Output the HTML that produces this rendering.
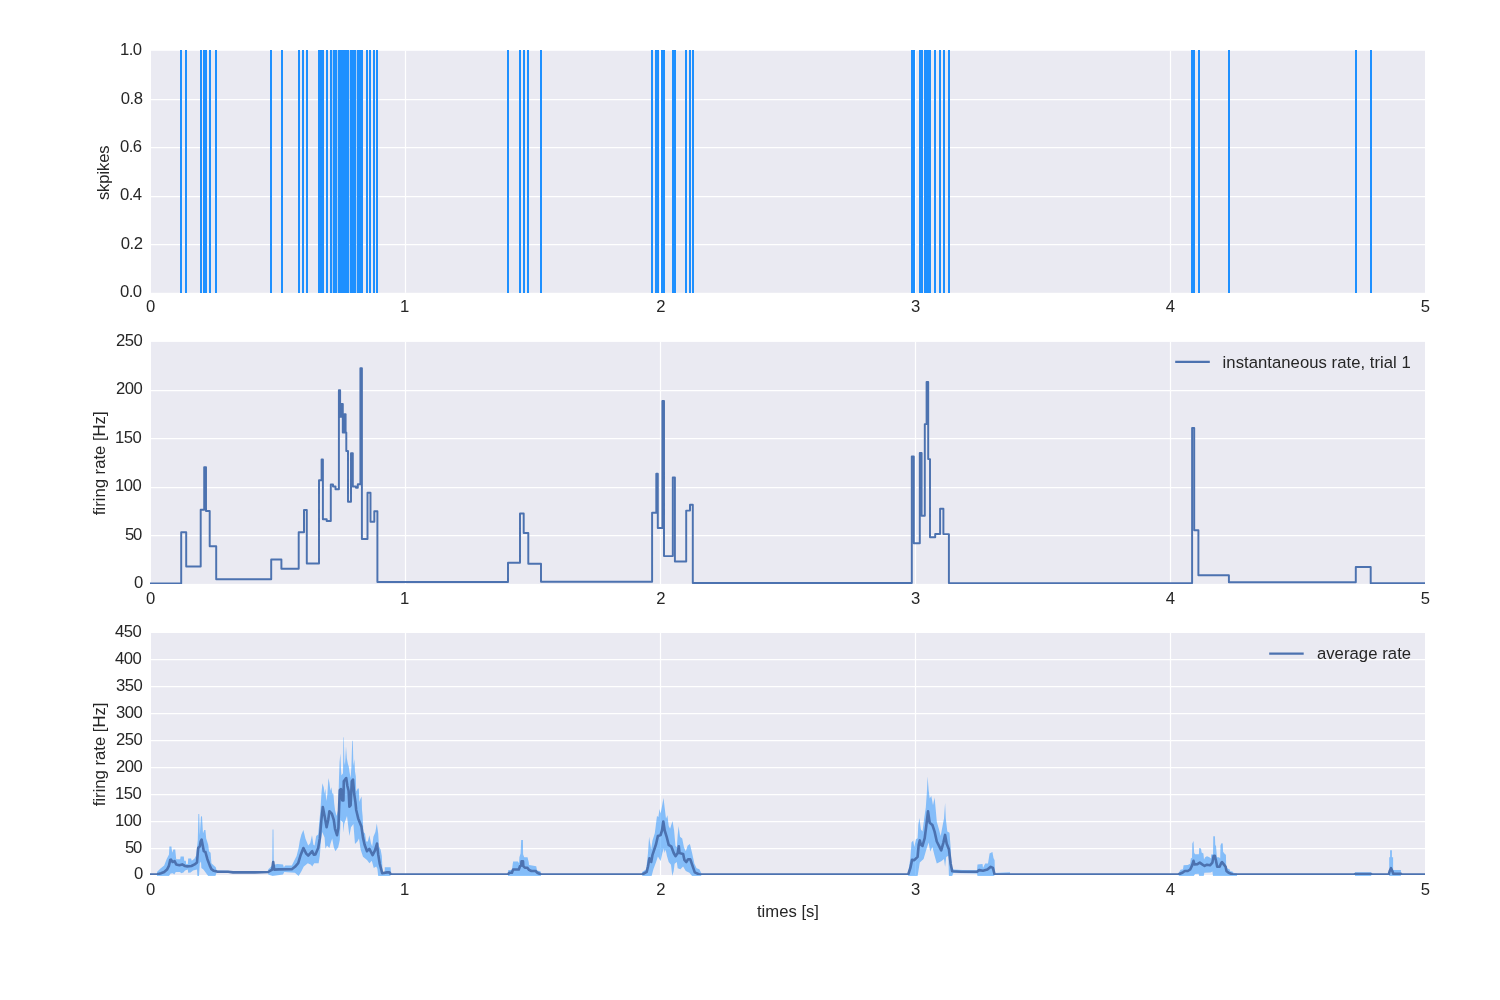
<!DOCTYPE html>
<html><head><meta charset="utf-8"><title>spikes and firing rates</title>
<style>html,body{margin:0;padding:0;background:#fff}body{width:1500px;height:1000px;overflow:hidden}svg{display:block}text{font-family:"Liberation Sans",Arial,sans-serif;font-size:16.67px;fill:#262626}</style>
</head><body>
<svg width="1500" height="1000" viewBox="0 0 1500 1000">
<rect x="0" y="0" width="1500" height="1000" fill="#fff"/>
<defs>
<clipPath id="c0"><rect x="150" y="50.8" width="1275" height="242.1"/></clipPath>
<clipPath id="c1"><rect x="150" y="341.9" width="1275" height="242.1"/></clipPath>
<clipPath id="c2"><rect x="150" y="633" width="1275" height="242.1"/></clipPath>
<clipPath id="cb"><rect x="151" y="633" width="1274" height="243"/></clipPath>
</defs>
<rect x="151" y="50.8" width="1274" height="242" fill="#EAEAF2"/>
<path d="M405.5,50.8 V292.8 M660.5,50.8 V292.8 M915.5,50.8 V292.8 M1170.5,50.8 V292.8 M151,244.5 H1425 M151,196.5 H1425 M151,147.5 H1425 M151,99.5 H1425" stroke="#fff" stroke-width="1.25" fill="none"/>
<path d="M180,49.9h2v243.2h-2zM185,49.9h2v243.2h-2zM200,49.9h2v243.2h-2zM203,49.9h4v243.2h-4zM209,49.9h2v243.2h-2zM215,49.9h2v243.2h-2zM270,49.9h2v243.2h-2zM281,49.9h2v243.2h-2zM298,49.9h2v243.2h-2zM302,49.9h2v243.2h-2zM306,49.9h2v243.2h-2zM318,49.9h6v243.2h-6zM326,49.9h2v243.2h-2zM330,49.9h2.2v243.2h-2.2zM332.9,49.9h4.3v243.2h-4.3zM337.9,49.9h11.3v243.2h-11.3zM349.9,49.9h6.3v243.2h-6.3zM356.9,49.9h6.1v243.2h-6.1zM366,49.9h2v243.2h-2zM369,49.9h2v243.2h-2zM373,49.9h2v243.2h-2zM376,49.9h2v243.2h-2zM507,49.9h2v243.2h-2zM519,49.9h2v243.2h-2zM523,49.9h2v243.2h-2zM527,49.9h2v243.2h-2zM540,49.9h2v243.2h-2zM651,49.9h2v243.2h-2zM655,49.9h4v243.2h-4zM661,49.9h4v243.2h-4zM672,49.9h4v243.2h-4zM685,49.9h2v243.2h-2zM689,49.9h2v243.2h-2zM692,49.9h2v243.2h-2zM911,49.9h4v243.2h-4zM919,49.9h4v243.2h-4zM924,49.9h7v243.2h-7zM934,49.9h2v243.2h-2zM939,49.9h2v243.2h-2zM943,49.9h2v243.2h-2zM948,49.9h2v243.2h-2zM1191,49.9h4v243.2h-4zM1198,49.9h2v243.2h-2zM1228,49.9h2v243.2h-2zM1355,49.9h2v243.2h-2zM1370,49.9h2v243.2h-2z" fill="#1E90FF"/>
<rect x="151" y="341.9" width="1274" height="242" fill="#EAEAF2"/>
<path d="M405.5,341.9 V583.9 M660.5,341.9 V583.9 M915.5,341.9 V583.9 M1170.5,341.9 V583.9 M151,535.5 H1425 M151,487.5 H1425 M151,438.5 H1425 M151,390.5 H1425" stroke="#fff" stroke-width="1.25" fill="none"/>
<path d="M150,583.4H181.2V532.2H186.2V566.4H200.7V509.8H204.2V467.1H206V511H209.7V546.2H216.2V579.2H271.2V559.5H281.4V568.8H298.7V532.2H304V509.9H306.8V563.4H319V480.2H321.6V459.5H322.9V519.2H326.7V521H330.8V484.5H333V486.5H335.5V489.2H338.9V390.1H340.1V416.8H341.5V403.9H342.8V432.4H344.3V414.1H345.6V432.4H346.3V451H348V501.8H351V453.3H352.8V486.5H356V487.7H357.8V484.3H360.4V368.3H361.9V539H367.5V492.8H370.5V521.8H374.3V511.2H377.4V582H508V562.7H520V513.5H523.7V533H528.3V563.7H541V581.8H652.1V512.8H656.3V473.7H657.8V527.9H662.4V400.9H664V556.1H672.8V477.4H674.9V561.4H686.2V510.6H690V504.8H692.8V582.9H911.8V456.5H913.8V543.2H919.8V452.9H921.6V515.8H924.8V424.1H926.6V381.9H928.2V459.1H930V537.2H935.2V533.9H940.1V508.8H943.4V534.1H948.9V583.1H1192.1V428H1194.2V530.2H1198.4V575.3H1228.9V582.2H1355.8V567H1370.7V583.2H1425.5" stroke="#4C72B0" stroke-width="1.95" fill="none" stroke-linejoin="round" clip-path="url(#c1)"/>
<rect x="151" y="633" width="1274" height="242" fill="#EAEAF2"/>
<path d="M405.5,633 V875 M660.5,633 V875 M915.5,633 V875 M1170.5,633 V875 M151,848.5 H1425 M151,821.5 H1425 M151,794.5 H1425 M151,767.5 H1425 M151,740.5 H1425 M151,713.5 H1425 M151,686.5 H1425 M151,659.5 H1425" stroke="#fff" stroke-width="1.25" fill="none"/>
<path d="M157,872L160.2,868.8L164.2,865.6L166.6,859.2L169,854.4L169.4,846.4L171.4,846.4L172.2,852.8L173.4,849.6L175.2,849.6L176.2,859.2L180.2,859.2L180.6,856.4L183.8,856.4L184.2,860.8L185.8,860.8L186.2,864L187.8,864L188.2,858.4L191,858.4L191.8,860.8L194.6,858.4L196.2,855.2L197.8,840L198.4,814L199.2,814L199.8,835.2L201,816L202,816.8L203,833.6L204.2,830L205.4,830L206.2,838.4L208.2,844.8L209,851.2L210.6,852.8L211.4,863.2L213.8,865.6L215.8,867.2L216.6,870.4L228,870.8L233,872L233,873L228,873L216.6,872.4L215.4,876L208.2,876L205.8,872.8L203.4,869.6L201.4,868L201,861.6L199.8,863.2L199,876L197.4,876L197,869.6L193,870.4L190.6,872.4L188.2,872.8L187.8,869.6L185,870.4L183.4,872.4L181,873.2L180.2,872L175.8,872L174.2,874.4L173,873.2L170.6,873.6L169,876L157,876ZM268.2,869.6L272.2,865.6L272.6,829.6L273.4,829.6L273.8,864.8L277.4,864L283,864.4L283.8,867.2L285.4,865.6L291.8,865.6L294.2,860.8L296.6,856L298.6,848L299.8,840.8L301.4,834.4L303.4,830L305.4,838.4L308.2,845.6L310.2,843.2L312,835.2L313.4,844.8L314.6,845.6L316.2,836L318.2,834.4L319,825.6L320.6,808L321.4,794L322.4,783.2L323.8,787.6L324.6,794L325.4,788.4L326,798L326.4,801L327.4,794L328.4,778L329.4,782.8L330.4,790.8L331.4,787.2L332.2,793.2L333.4,794L334.2,803.6L335,810L336.5,816L338.2,810L339,778L339.6,762L340.4,753.6L341,770L341.4,775.6L343,773.2L343.4,738L343.8,736.8L344.4,762L345,765.2L346,746.4L346.8,758L347.8,763.6L348.8,766.8L349.4,771.6L350.6,778L351.4,766.8L352.2,741.2L352.8,740.4L353.4,766L354.4,759.2L355,771.6L355.8,776.4L356.2,791.6L357.8,788.4L358.8,788.4L359.4,802L360.2,799.6L361.6,796.4L362,810L362.6,816L363.4,832L365,833.6L366.2,841.6L367.8,841.6L369.4,835.2L371,843.2L372.2,846.4L373.4,836.8L375.4,832L376.8,823.6L378.2,833.6L379,846.4L380.6,849.6L381.8,856L382.6,872L384.6,872L384.8,867.2L390.6,867.2L391,872.8L391,874.4L390.2,876L378.2,876L377.4,868.8L376.2,866.4L373.8,868L371.8,860.8L369.4,863.2L367,860L363,856.8L360.6,849.6L359,838.4L357.4,841.6L355,844L353.4,824L351,827.2L349.4,836L347,816L344.2,824L343.4,832.8L343,822.4L340.6,820L339.8,840L338.2,847.2L335.4,851.2L333.8,847.2L332.2,838.4L330.6,843.2L329.4,848L327,845.6L325.4,848.8L324.6,837.6L322.2,832L321,840L319.8,856L318.6,863.2L314.2,863.2L312.2,866.4L311,864.8L307.8,863.2L303.8,866.4L301,872L298.6,876L295,872.8L284.2,872L283,874.4L272.6,876L268.2,874.4ZM508,873.4L508.3,870.1L511.9,870.1L513.1,861.4L517.9,861.4L519.1,863.2L519.4,857.2L520.6,853.6L521.2,840.1L522.9,840.1L523.1,854.2L524.2,857.2L527.5,857.2L528.7,862L529,865L532,865.6L536.2,866.2L537.1,870.4L540.4,871.3L541,873.4L541,876L508,876ZM642.2,871.9L646.2,869.2L648,853L649.1,836.8L650.3,844L651.2,849.4L652.5,840.4L654.8,833.2L657,816.1L658.4,817L659.5,808.9L660.6,813.4L662,806.2L663.5,798.1L664.7,808L666,818.8L667.4,815.2L668.7,826L670.1,828.7L672.5,821.1L674.1,830.5L675.5,845.8L676.8,847.6L677.7,835L678.6,826L680,836.8L682.2,838.6L684,847.6L685.8,851.2L687.6,845.8L689.9,844L692.1,853L694.4,863.8L696.6,868.3L699.3,869.2L701.6,873.7L701.1,876L692.1,876L689.4,872.8L685.8,871L683.1,866.5L680.4,869.2L677.7,868.3L676.8,862L674.6,863.8L673.7,871L672.3,876L671,864.7L668.7,862L666.9,855.7L665.6,849.4L664.7,853L663.8,848.5L662.4,853L660.6,861.1L657.9,856.6L656.1,862L653.4,869.2L651.6,876L642.2,876ZM908.2,872.3L910.4,858L911.5,842.6L913.2,840.4L914.3,847L915.9,839.3L917.6,838.2L918.3,825L919.4,817.9L920.9,829.4L922.5,831.6L924.2,818.4L925.8,807.4L926.9,792L927.6,776.6L928.6,789.8L929.7,798.6L931.3,795.9L933,805.2L934.6,797.5L935.7,809.6L936.8,821.7L939,829.4L940.7,836L942.3,827.2L944,818.4L945.1,803L945.8,818.4L947.3,831.6L949.5,832.7L950.6,847L951.7,866.8L953.3,869.6L962.1,870.1L977,870.3L977.5,864.6L982.5,864.1L983,867.9L985.2,863.5L988,863.5L989.6,853.6L992.4,852L993.5,858L994.6,860.2L994.9,872.9L1010,872.3L1010,874.5L994.9,874.5L994,876L977.5,876L977,873.4L953.3,872.9L952.2,876L948.9,876L948.4,855.8L946.2,856.9L945.1,866.8L944,859.1L941.2,861.3L936.8,863.5L934.6,855.8L932.4,847L930.2,851.4L928.6,842.6L926.4,849.2L923.6,859.1L919.8,862.4L917.6,876L908.2,876ZM1178.8,872.8L1180.6,869.8L1183,869.2L1183.6,865.3L1187.8,865L1190.2,863.8L1190.8,858.4L1192,857.8L1192.3,843.4L1193.5,841L1194.1,852.4L1195,854.2L1198.9,854.2L1199.2,847.9L1201,848.5L1201.6,852.4L1203.4,853.6L1204,859.6L1205.2,857.2L1207,856.3L1209.4,857.2L1210.9,858.4L1211.2,854.5L1213,854.2L1213.3,836.2L1214.9,836.2L1215.3,845.2L1216,845.8L1216.9,857.2L1219,857.2L1220.2,858.4L1220.5,845.2L1221.7,843.1L1222.7,843.4L1223.1,851.8L1225,854.2L1225.9,854.8L1226.2,865.6L1227.4,868.6L1229.5,869.2L1230.4,871.3L1232.5,871.6L1233.4,872.8L1237,873.4L1237,876L1213,876L1212.4,871.6L1210.6,872.5L1204.3,872.8L1203.7,876L1199.2,876L1198.6,873.7L1195,874L1193.8,876L1178.8,876ZM1355,872.2L1371.2,872.2L1371.2,876L1355,876ZM1389.2,874L1389.2,857.2L1390.1,857.2L1390.1,850.3L1391.9,850.3L1391.9,857.2L1393.1,857.2L1393.1,870.1L1400.9,870.1L1400.9,874L1400.9,876L1389.2,876Z" fill="#1E90FF" fill-opacity="0.5" clip-path="url(#cb)"/>
<path d="M150,874.5L157,874.5L161,873.2L164.2,872L167,869.6L169,865.6L170.2,860L171,859.6L172.6,862L174.6,861.2L176.2,864.4L179.4,865.2L182.2,864.4L185,866L187.4,866.4L191.4,866L194.6,864.4L197,862.4L198.2,848L199.8,846.4L200.6,841.6L201.6,839.6L202.6,844.8L203.8,851.2L205.4,852L207.4,859.2L209.8,865.6L211.4,869.2L213.8,870.8L217,871.6L228.2,871.8L233,872.4L255,872.4L268.2,872L272.2,869.6L273.2,862L274.2,869.6L279,869.4L291.8,869.2L295,866.8L298.2,863.2L300.6,855.2L303.4,848L306.2,853.6L308.2,855.6L312.2,851.2L313.8,854.8L315.4,854.4L318.2,848L319.8,838.4L321.4,820L322.8,807L324.6,816L326.6,827.2L328.2,820L329.4,811.2L331.8,813.6L333.8,820L335,828.8L337,835.2L338.4,828L339.2,805L339.8,790L341,789.2L342.2,800.4L343.4,800.4L343.8,781.2L346.2,778L347.4,786L348.6,790.8L349.4,806.8L350.6,805.2L351.8,781.2L353,779.6L354.2,794L355.4,802L356.2,810L358.2,818.4L361.4,826.4L363,837.6L364.6,844.8L367,851.2L369.4,848.8L372.6,855.2L375,850.4L377,843.6L378.2,854.4L379.8,864L382.2,873.2L387,872.4L389.4,872.4L391,874.5L508,874.5L509.2,872.8L511.9,872.8L513.1,869.5L518.8,869.5L520,866.2L521.2,865.6L521.5,861.4L523,861.4L523.3,866.2L524.8,867.7L527.2,867.7L529,869.8L531.4,871L535.6,871L537.4,872.8L541,874.5L630,874.5L642.2,874.5L646.7,871.9L648,866.5L649.4,858.4L651.2,862L652.5,854.8L656.1,844L657.9,835.9L660.6,835L662,830.5L663.3,821.5L664.7,830.5L666.9,837.7L668.7,844.9L671.4,846.7L673.7,853L675.5,856.2L677.7,853L678.8,846.3L679.5,853L683.1,853.9L684.5,860.2L686.3,862L688.1,859.3L690.3,859.3L692.1,864.7L694.8,872.4L699.3,874.5L702,874.5L895,874.5L908.2,874.5L910.4,867.9L912.1,859.7L914.3,860.2L917.6,856.9L918.7,844.8L919.8,840.4L920.9,844.8L922.5,845.9L924.7,838.2L926.4,825L928,811.3L929.7,822.8L932.4,825L934.6,831.6L936.8,841.5L939,845.9L941.2,850.3L943.4,842.6L945.1,834.9L946.7,843.7L948.9,849.2L950.6,863.5L952.2,871.2L961,871.8L977,871.8L979.2,870.1L983,870.7L987.4,869.6L990.7,866.8L992.9,867.9L994.6,874.5L1010,874.5L1015,874.5L1165,874.5L1178.2,874.5L1182.4,872.8L1184.8,871L1187.8,871L1190.2,869.5L1192,865.6L1193.5,860.8L1194.4,864.4L1197.4,864.1L1199.8,862.6L1202.2,864.4L1204.6,865.9L1207,864.7L1210,865.3L1212.4,862.6L1213.6,856L1214.8,855.7L1216,860.8L1217.2,866.8L1219.6,866.8L1221.1,863.2L1222,862L1223.8,864.4L1225.6,866.8L1226.5,871L1228.6,872.8L1232.8,874.5L1237,874.5L1354,874.5L1355,874.1L1371.2,874.1L1372,874.5L1388.7,874.5L1389.7,871L1391,868.2L1392.3,871L1393.3,873.8L1401,873.8L1401.5,874.5L1425.5,874.5" stroke="#4C72B0" stroke-width="2.6" fill="none" stroke-linejoin="round" clip-path="url(#c2)"/>
<text x="142.1" y="297" text-anchor="end" textLength="22.2" lengthAdjust="spacing">0.0</text>
<text x="143" y="249" text-anchor="end" textLength="22.2" lengthAdjust="spacing">0.2</text>
<text x="142.1" y="200" text-anchor="end" textLength="22.2" lengthAdjust="spacing">0.4</text>
<text x="142.1" y="152" text-anchor="end" textLength="22.2" lengthAdjust="spacing">0.6</text>
<text x="143" y="104" text-anchor="end" textLength="22.2" lengthAdjust="spacing">0.8</text>
<text x="142.1" y="55" text-anchor="end" textLength="22.2" lengthAdjust="spacing">1.0</text>
<text x="150.7" y="312" text-anchor="middle">0</text>
<text x="404.7" y="312" text-anchor="middle">1</text>
<text x="660.9" y="312" text-anchor="middle">2</text>
<text x="915.7" y="312" text-anchor="middle">3</text>
<text x="1170.4" y="312" text-anchor="middle">4</text>
<text x="1425.5" y="312" text-anchor="middle">5</text>
<text x="143.3" y="588" text-anchor="end">0</text>
<text x="142.3" y="540" text-anchor="end" textLength="17.2" lengthAdjust="spacing">50</text>
<text x="141.7" y="491" text-anchor="end" textLength="26.8" lengthAdjust="spacing">100</text>
<text x="141.7" y="443" text-anchor="end" textLength="26.8" lengthAdjust="spacing">150</text>
<text x="142.7" y="394" text-anchor="end" textLength="26.8" lengthAdjust="spacing">200</text>
<text x="142.7" y="346" text-anchor="end" textLength="26.8" lengthAdjust="spacing">250</text>
<text x="150.7" y="604" text-anchor="middle">0</text>
<text x="404.7" y="604" text-anchor="middle">1</text>
<text x="660.9" y="604" text-anchor="middle">2</text>
<text x="915.7" y="604" text-anchor="middle">3</text>
<text x="1170.4" y="604" text-anchor="middle">4</text>
<text x="1425.5" y="604" text-anchor="middle">5</text>
<text x="143.3" y="879" text-anchor="end">0</text>
<text x="142.3" y="853" text-anchor="end" textLength="17.2" lengthAdjust="spacing">50</text>
<text x="141.7" y="826" text-anchor="end" textLength="26.8" lengthAdjust="spacing">100</text>
<text x="141.7" y="799" text-anchor="end" textLength="26.8" lengthAdjust="spacing">150</text>
<text x="142.7" y="772" text-anchor="end" textLength="26.8" lengthAdjust="spacing">200</text>
<text x="142.7" y="745" text-anchor="end" textLength="26.8" lengthAdjust="spacing">250</text>
<text x="142.7" y="718" text-anchor="end" textLength="26.8" lengthAdjust="spacing">300</text>
<text x="142.7" y="691" text-anchor="end" textLength="26.8" lengthAdjust="spacing">350</text>
<text x="141.7" y="664" text-anchor="end" textLength="26.8" lengthAdjust="spacing">400</text>
<text x="141.7" y="637" text-anchor="end" textLength="26.8" lengthAdjust="spacing">450</text>
<text x="150.7" y="895" text-anchor="middle">0</text>
<text x="404.7" y="895" text-anchor="middle">1</text>
<text x="660.9" y="895" text-anchor="middle">2</text>
<text x="915.7" y="895" text-anchor="middle">3</text>
<text x="1170.4" y="895" text-anchor="middle">4</text>
<text x="1425.5" y="895" text-anchor="middle">5</text>
<text transform="translate(108.6,172.7) rotate(-90)" text-anchor="middle" textLength="54.8" lengthAdjust="spacing">skpikes</text>
<text transform="translate(104.6,463.3) rotate(-90)" text-anchor="middle">firing rate [Hz]</text>
<text transform="translate(104.6,754.4) rotate(-90)" text-anchor="middle">firing rate [Hz]</text>
<text x="788" y="917" text-anchor="middle">times [s]</text>
<path d="M1175.2,361.9H1209.8" stroke="#4C72B0" stroke-width="2.2" fill="none"/>
<text x="1222.6" y="368" textLength="188.2" lengthAdjust="spacing">instantaneous rate, trial 1</text>
<path d="M1269.2,653.6H1303.7" stroke="#4C72B0" stroke-width="2.2" fill="none"/>
<text x="1316.9" y="659" textLength="94.2" lengthAdjust="spacing">average rate</text>
</svg>
</body></html>
